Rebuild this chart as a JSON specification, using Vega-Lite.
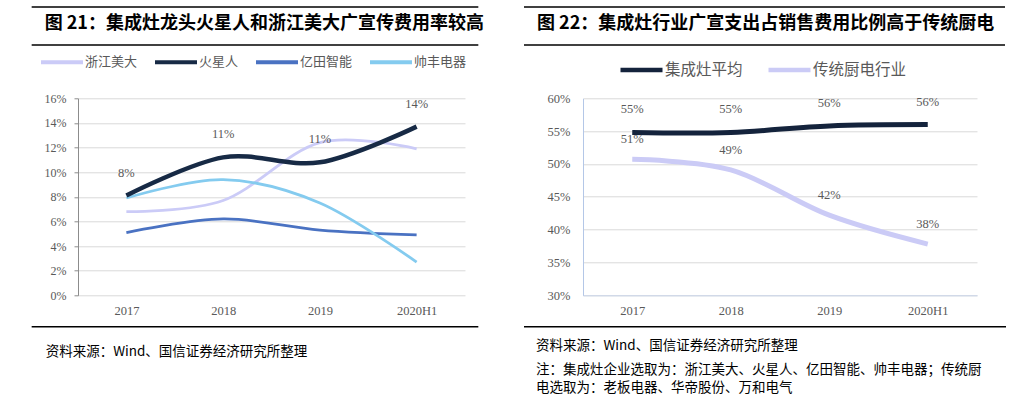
{
  "$schema": "https://vega.github.io/schema/vega-lite/v6.json",
  "padding": {"left": 13, "top": 6, "right": 0, "bottom": 0},
  "config": {
    "view": {"stroke": null},
    "font": "Noto Sans CJK SC",
    "axis": {"labelFont": "Liberation Serif", "labelColor": "#595959", "title": null}
  },
  "datasets": {
    "left": [
      {"year": "2017", "company": "浙江美大", "value": 0.068},
      {"year": "2018", "company": "浙江美大", "value": 0.077},
      {"year": "2019", "company": "浙江美大", "value": 0.124},
      {"year": "2020H1", "company": "浙江美大", "value": 0.119},
      {"year": "2017", "company": "亿田智能", "value": 0.051},
      {"year": "2018", "company": "亿田智能", "value": 0.062},
      {"year": "2019", "company": "亿田智能", "value": 0.053},
      {"year": "2020H1", "company": "亿田智能", "value": 0.049},
      {"year": "2017", "company": "帅丰电器", "value": 0.079},
      {"year": "2018", "company": "帅丰电器", "value": 0.094},
      {"year": "2019", "company": "帅丰电器", "value": 0.075},
      {"year": "2020H1", "company": "帅丰电器", "value": 0.027},
      {"year": "2017", "company": "火星人", "value": 0.081},
      {"year": "2018", "company": "火星人", "value": 0.112},
      {"year": "2019", "company": "火星人", "value": 0.108},
      {"year": "2020H1", "company": "火星人", "value": 0.137}
    ],
    "right": [
      {"year": "2017", "series": "传统厨电行业", "value": 0.507},
      {"year": "2018", "series": "传统厨电行业", "value": 0.491},
      {"year": "2019", "series": "传统厨电行业", "value": 0.422},
      {"year": "2020H1", "series": "传统厨电行业", "value": 0.378},
      {"year": "2017", "series": "集成灶平均", "value": 0.548},
      {"year": "2018", "series": "集成灶平均", "value": 0.548},
      {"year": "2019", "series": "集成灶平均", "value": 0.558},
      {"year": "2020H1", "series": "集成灶平均", "value": 0.56}
    ],
    "edges": [{"p": 0}, {"p": 1}],
    "topedge": [{"p": 1}]
  },
  "resolve": {"scale": {"color": "independent", "x": "independent", "y": "independent"}, "legend": {"color": "independent"}},
  "align": "none",
  "spacing": -6.7,
  "vconcat": [
    {
      "spacing": 28,
      "resolve": {"scale": {"x": "independent", "y": "independent"}},
      "hconcat": [
        {
          "width": 417, "height": 38,
          "layer": [
            {
              "data": {"name": "edges"},
              "mark": {"type": "rule", "color": "#000000", "strokeWidth": 1.4},
              "encoding": {
                "x": {"datum": 0, "type": "quantitative", "scale": {"domain": [65, 482]}, "axis": null},
                "x2": {"datum": 482},
                "y": {"field": "p", "type": "quantitative", "scale": {"domain": [0, 1]}, "axis": null}
              }
            },
            {
              "data": {"values": [{"t": "图 21：集成灶龙头火星人和浙江美大广宣传费用率较高"}]},
              "mark": {"type": "text", "align": "left", "baseline": "middle", "dx": 13, "dy": 17, "fontSize": 18, "fontWeight": "bold", "color": "#000000"},
              "encoding": {
                "x": {"datum": 0, "type": "quantitative", "axis": null},
                "y": {"datum": 1, "type": "quantitative", "axis": null},
                "text": {"field": "t"}
              }
            }
          ]
        },
        {
          "width": 481, "height": 38,
          "layer": [
            {
              "data": {"name": "edges"},
              "mark": {"type": "rule", "color": "#000000", "strokeWidth": 1.4},
              "encoding": {"y": {"field": "p", "type": "quantitative", "scale": {"domain": [0, 1]}, "axis": null}}
            },
            {
              "data": {"values": [{"t": "图 22：集成灶行业广宣支出占销售费用比例高于传统厨电"}]},
              "mark": {"type": "text", "align": "left", "baseline": "middle", "dx": 13, "dy": 17, "fontSize": 18, "fontWeight": "bold", "color": "#000000"},
              "encoding": {
                "x": {"datum": 0, "type": "quantitative", "scale": {"domain": [0, 1]}, "axis": null},
                "y": {"datum": 1, "type": "quantitative", "axis": null},
                "text": {"field": "t"}
              }
            }
          ]
        }
      ]
    },
    {
      "align": "none",
      "spacing": 8.5,
      "resolve": {"scale": {"color": "independent", "x": "independent", "y": "independent"}, "legend": {"color": "independent"}},
      "vconcat": [
        {
          "spacing": 55,
          "resolve": {"scale": {"color": "independent", "x": "independent", "y": "independent"}, "legend": {"color": "independent"}},
          "hconcat": [
            {
              "width": 387, "height": 197,
              "data": {"name": "left"},
              "encoding": {
                "x": {"field": "year", "type": "ordinal", "scale": {"type": "point", "padding": 0.5},
                      "axis": {"labelAngle": 0, "ticks": false, "domain": false, "labelFontSize": 12.5, "labelPadding": 9}},
                "y": {"field": "value", "type": "quantitative", "scale": {"domain": [0, 0.16], "nice": false},
                      "axis": {"format": ".0%", "values": [0, 0.02, 0.04, 0.06, 0.08, 0.1, 0.12, 0.14, 0.16],
                               "gridColor": "#d9d9d9", "domainColor": "#8c8c8c", "tickColor": "#8c8c8c", "tickSize": 4,
                               "labelFontSize": 12, "labelPadding": 8, "minExtent": 65, "maxExtent": 65}}
              },
              "layer": [
                {
                  "transform": [{"filter": "datum.company !== '火星人'"}],
                  "mark": {"type": "line", "interpolate": "cardinal", "strokeWidth": 2.8},
                  "encoding": {
                    "color": {"field": "company", "type": "nominal",
                      "scale": {"domain": ["浙江美大", "火星人", "亿田智能", "帅丰电器"], "range": ["#cbcbf7", "#172a45", "#4a72c2", "#84cbef"]},
                      "legend": {"title": null, "orient": "none", "direction": "horizontal", "legendX": -39, "legendY": -59,
                        "symbolType": "stroke", "symbolSize": 1764, "symbolStrokeWidth": 4, "labelOffset": 0, "columnPadding": 9,
                        "labelFont": "Noto Sans CJK SC", "labelFontSize": 13, "labelColor": "#595959", "padding": 0}}
                  }
                },
                {
                  "transform": [{"filter": "datum.company === '火星人'"}],
                  "mark": {"type": "line", "interpolate": "cardinal", "strokeWidth": 4.5},
                  "encoding": {"color": {"field": "company", "type": "nominal"}}
                },
                {
                  "transform": [{"filter": "datum.company === '火星人'"}],
                  "mark": {"type": "text", "dy": -23, "font": "Liberation Serif", "fontSize": 12.5, "color": "#595959"},
                  "encoding": {"text": {"field": "value", "type": "quantitative", "format": ".0%"}}
                }
              ]
            },
            {
              "width": 394, "height": 197,
              "data": {"name": "right"},
              "encoding": {
                "x": {"field": "year", "type": "ordinal", "scale": {"type": "point", "padding": 0.5},
                      "axis": {"labelAngle": 0, "ticks": false, "domain": true, "domainColor": "#c9d5ea", "labelFontSize": 12.5, "labelPadding": 9}},
                "y": {"field": "value", "type": "quantitative", "scale": {"domain": [0.3, 0.6], "nice": false},
                      "axis": {"format": ".0%", "values": [0.3, 0.35, 0.4, 0.45, 0.5, 0.55, 0.6],
                               "gridColor": "#d9d9d9", "domainColor": "#b4c7e7", "ticks": false,
                               "labelFontSize": 12.5, "labelPadding": 13, "minExtent": 61, "maxExtent": 61}}
              },
              "layer": [
                {
                  "mark": {"type": "line", "interpolate": "cardinal", "strokeWidth": 5},
                  "encoding": {
                    "color": {"field": "series", "type": "nominal",
                      "scale": {"domain": ["集成灶平均", "传统厨电行业"], "range": ["#14233c", "#cbcbf6"]},
                      "legend": {"title": null, "orient": "none", "direction": "horizontal", "legendX": 35, "legendY": -52,
                        "symbolType": "stroke", "symbolSize": 1764, "symbolStrokeWidth": 4.5, "labelOffset": 0, "columnPadding": 16,
                        "labelFont": "Noto Sans CJK SC", "labelFontSize": 15.5, "labelColor": "#595959", "padding": 0}}
                  }
                },
                {
                  "transform": [{"filter": "datum.series === '集成灶平均'"}],
                  "mark": {"type": "text", "dy": -23, "font": "Liberation Serif", "fontSize": 12.5, "color": "#595959"},
                  "encoding": {"text": {"field": "value", "type": "quantitative", "format": ".0%"}}
                },
                {
                  "transform": [{"filter": "datum.series === '传统厨电行业'"}],
                  "mark": {"type": "text", "dy": -20, "font": "Liberation Serif", "fontSize": 12.5, "color": "#595959"},
                  "encoding": {"text": {"field": "value", "type": "quantitative", "format": ".0%"}}
                }
              ]
            }
          ]
        },
        {
          "spacing": 28,
          "resolve": {"scale": {"x": "independent", "y": "independent"}},
          "hconcat": [
            {
              "width": 417, "height": 70,
              "layer": [
                {
                  "data": {"name": "topedge"},
                  "mark": {"type": "rule", "color": "#000000", "strokeWidth": 1.4},
                  "encoding": {
                    "x": {"datum": 0, "type": "quantitative", "scale": {"domain": [65, 482]}, "axis": null},
                    "x2": {"datum": 482},
                    "y": {"field": "p", "type": "quantitative", "scale": {"domain": [0, 1]}, "axis": null}
                  }
                },
                {
                  "data": {"values": [{"t": "资料来源：Wind、国信证券经济研究所整理"}]},
                  "mark": {"type": "text", "align": "left", "baseline": "middle", "dx": 14, "dy": 25, "fontSize": 13.5, "color": "#000000"},
                  "encoding": {
                    "x": {"datum": 0, "type": "quantitative", "axis": null},
                    "y": {"datum": 1, "type": "quantitative", "axis": null},
                    "text": {"field": "t"}
                  }
                }
              ]
            },
            {
              "width": 482, "height": 70,
              "layer": [
                {
                  "data": {"name": "topedge"},
                  "mark": {"type": "rule", "color": "#000000", "strokeWidth": 1.4},
                  "encoding": {"y": {"field": "p", "type": "quantitative", "scale": {"domain": [0, 1]}, "axis": null}}
                },
                {
                  "data": {"values": [{"t": "资料来源：Wind、国信证券经济研究所整理"}]},
                  "mark": {"type": "text", "align": "left", "baseline": "middle", "dx": 12, "dy": 19, "fontSize": 13.5, "color": "#000000"},
                  "encoding": {
                    "x": {"datum": 0, "type": "quantitative", "scale": {"domain": [0, 1]}, "axis": null},
                    "y": {"datum": 1, "type": "quantitative", "axis": null},
                    "text": {"field": "t"}
                  }
                },
                {
                  "data": {"values": [{"t": "注：集成灶企业选取为：浙江美大、火星人、亿田智能、帅丰电器；传统厨"}]},
                  "mark": {"type": "text", "align": "left", "baseline": "middle", "dx": 12, "dy": 43, "fontSize": 13.5, "color": "#000000"},
                  "encoding": {
                    "x": {"datum": 0, "type": "quantitative", "axis": null},
                    "y": {"datum": 1, "type": "quantitative", "axis": null},
                    "text": {"field": "t"}
                  }
                },
                {
                  "data": {"values": [{"t": "电选取为：老板电器、华帝股份、万和电气"}]},
                  "mark": {"type": "text", "align": "left", "baseline": "middle", "dx": 12, "dy": 61, "fontSize": 13.5, "color": "#000000"},
                  "encoding": {
                    "x": {"datum": 0, "type": "quantitative", "axis": null},
                    "y": {"datum": 1, "type": "quantitative", "axis": null},
                    "text": {"field": "t"}
                  }
                }
              ]
            }
          ]
        }
      ]
    }
  ]
}
